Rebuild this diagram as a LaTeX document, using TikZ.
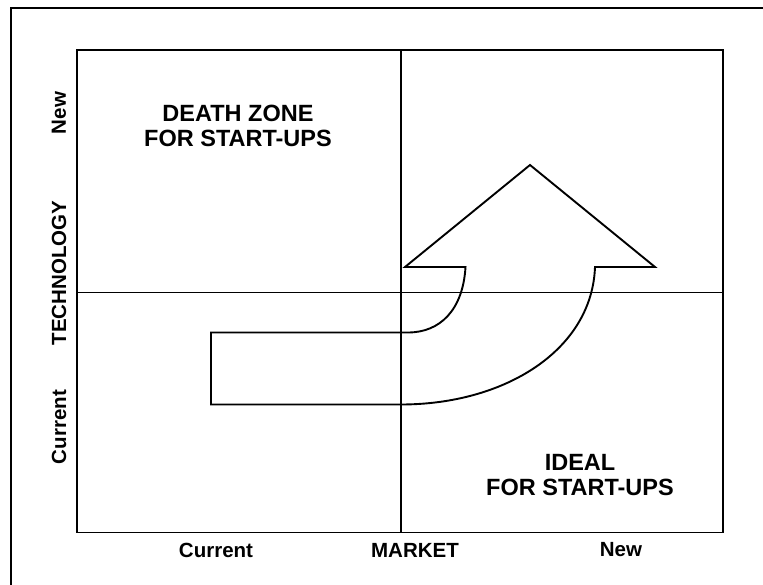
\documentclass[tikz,border=0pt]{standalone}
\usepackage{fontspec}
\setmainfont{Liberation Sans}
\begin{document}
\begin{tikzpicture}[x=1pt,y=-1pt,
  line/.style={line width=1.9pt,black},
  axislabel/.style={font=\fontsize{20.5}{24}\selectfont\bfseries,inner sep=0pt},
  zonelabel/.style={font=\fontsize{23.5}{25.5}\selectfont\bfseries,align=center,inner sep=0pt}]
\useasboundingbox (0,0) rectangle (763,585);
% outer frame (cut off on right and bottom)
\draw[line] (11,585) -- (11,8) -- (763,8);
% inner box and axes
\draw[line] (77,50) rectangle (723,532.5);
\coordinate (vtop) at (401,50);
\coordinate (vbot) at (401,532.5);
\coordinate (hleft) at (77,292.5);
\coordinate (hright) at (723,292.5);
\draw[line] (vtop) -- (vbot);
\draw[line] (hleft) -- (hright);
% curved arrow
\draw[line,line join=miter] (211,332.5) -- (408,332.5)
  .. controls (440,332.5) and (463,310) .. (465.5,267)
  -- (405,267) -- (530,165) -- (655,267) -- (595,267)
  .. controls (592,350) and (505,404.5) .. (401,404.5)
  -- (211,404.5) -- cycle;
% zone labels
\node[zonelabel] (death) at (238,126) {DEATH ZONE\\FOR START-UPS};
\node[zonelabel] (ideal) at (580,475) {IDEAL\\FOR START-UPS};
% market axis labels
\node[axislabel] (mcur) at (216,550) {Current};
\node[axislabel] (mlab) at (415,550) {MARKET};
\node[axislabel] (mnew) at (621,550) {New};
% technology axis labels
\node[axislabel,rotate=90] (tnew) at (59,113) {New};
\node[axislabel,rotate=90] (tlab) at (59,273) {TECHNOLOGY};
\node[axislabel,rotate=90] (tcur) at (59,427) {Current};
\end{tikzpicture}
\end{document}
